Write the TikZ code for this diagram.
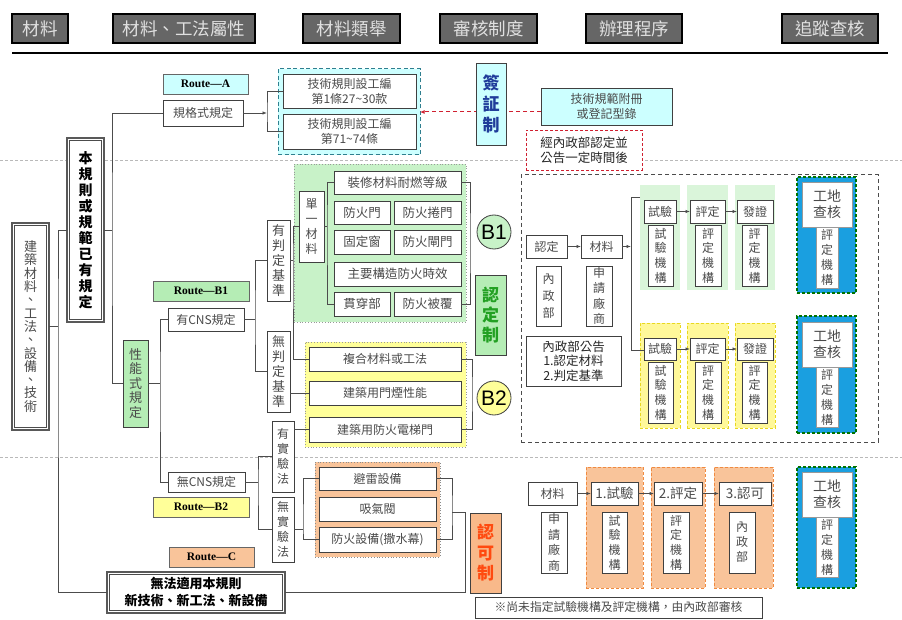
\documentclass[tikz,border=0pt]{standalone}
\usepackage{fontspec}
\newfontfamily\cjk{Noto Sans CJK TC}
\newfontfamily\rmser{Liberation Serif}
\newfontfamily\sfar{Liberation Sans}
\usetikzlibrary{arrows.meta}
\definecolor{hdr}{HTML}{666666}
\definecolor{cyanf}{HTML}{CCFFFF}
\definecolor{greenf}{HTML}{C8F2C8}
\definecolor{greenr}{HTML}{B5EDB5}
\definecolor{yellowf}{HTML}{FFFF99}
\definecolor{orangef}{HTML}{F9C49A}
\definecolor{orangeb}{HTML}{F8B98A}
\definecolor{bluef}{HTML}{1A9FE0}
\definecolor{txt}{HTML}{4A4A4A}
\definecolor{teal2}{HTML}{2F7F8F}
\definecolor{greentxt}{HTML}{22A022}
\definecolor{orangetxt}{HTML}{FF4A10}
\definecolor{bluetxt}{HTML}{1F3C9A}
\definecolor{redd}{HTML}{D02030}
\definecolor{lgreen}{HTML}{DAF5DA}
\definecolor{lyellow}{HTML}{FFF89A}
\definecolor{ydash}{HTML}{E8D820}
\definecolor{odash}{HTML}{F08A40}
\newcommand{\mybox}[7][]{\node[#1, minimum width={(#4-#2)*1pt}, minimum height={(#5-#3)*1pt}] (#6) at ({(#2+#4)/2},{(#3+#5)/2}) {#7};}
\newcommand{\innerframe}[1]{\draw[black!70, line width=0.6pt] ([xshift=2.6pt,yshift=-2.6pt]#1.north west) rectangle ([xshift=-2.6pt,yshift=2.6pt]#1.south east);}
\begin{document}
\begin{tikzpicture}[x=1pt,y=-1pt,
  hdrbox/.style={draw=black, line width=1.5pt, fill=hdr, text=white!88!black, font=\cjk\fontsize{17.5}{20}\selectfont, inner sep=0, outer sep=0},
  wbox/.style={draw=black!75, line width=0.8pt, fill=white, text=txt, font=\cjk\fontsize{12}{15}\selectfont, inner sep=0, outer sep=0, align=center},
  dblbox/.style={wbox, draw=black!65, line width=1.3pt},
  routebox/.style={draw=black!60, line width=0.8pt, text=black, font=\rmser\bfseries\fontsize{11.5}{13}\selectfont, inner sep=0, outer sep=0},
  grp/.style={inner sep=0, outer sep=0},
  conn/.style={draw=black!70, line width=0.8pt},
  arr/.style={conn, -{Latex[length=4.5pt,width=3.5pt]}},
  v12/.style={font=\cjk\fontsize{12}{15}\selectfont},
  v13/.style={font=\cjk\fontsize{13}{15}\selectfont},
  gcol/.style={grp, fill=lgreen},
  ycol/.style={grp, fill=lyellow, draw=ydash, line width=0.9pt, dash pattern=on 3pt off 2pt},
  ocol/.style={grp, fill=orangef, draw=odash, line width=0.9pt, dash pattern=on 3pt off 2pt},
  bluebox/.style={grp, fill=bluef, draw=green!45!black, line width=1.3pt, dash pattern=on 3pt off 2pt},
  inw/.style={wbox, draw=black!40, line width=0.5pt}
]
\useasboundingbox (0,0) rectangle (902,620);
\fill[white] (0,0) rectangle (902,620);

% headers
\mybox[hdrbox]{12}{14}{68}{43}{h1}{材料}
\mybox[hdrbox]{113}{14}{255}{43}{h2}{材料、工法屬性}
\mybox[hdrbox]{303}{14}{400}{43}{h3}{材料類舉}
\mybox[hdrbox]{440}{14}{537}{43}{h4}{審核制度}
\mybox[hdrbox]{586}{14}{682}{43}{h5}{辦理程序}
\mybox[hdrbox]{782}{14}{878}{43}{h6}{追蹤查核}
\draw[line width=2.2pt] (12,53) -- (888,53);

% separators
\draw[gray!55, line width=0.8pt, dash pattern=on 3pt off 2pt] (0,160) -- (902,160);
\draw[gray!55, line width=0.8pt, dash pattern=on 3pt off 2pt] (0,457) -- (902,457);

% ---- Route A
\mybox[grp, fill=cyanf, draw=teal2, line width=1pt, dash pattern=on 4pt off 2.5pt]{278}{69}{420}{155}{gA}{}
\mybox[routebox, fill=cyanf]{163}{74}{248}{94}{rA}{Route—A}
\mybox[wbox]{163}{100}{243}{126}{spec}{規格式規定}
\mybox[wbox]{283}{74}{416}{108}{ta1}{技術規則設工編\\第1條27\textasciitilde30款}
\mybox[wbox]{283}{114}{416}{149}{ta2}{技術規則設工編\\第71\textasciitilde74條}
\mybox[wbox, fill=cyanf]{541}{88}{672}{125}{app}{技術規範附冊\\或登記型錄}
\draw[redd, line width=1pt, dash pattern=on 4pt off 3pt, -{Latex[length=4.5pt,width=4pt]}] ([yshift=-5.5pt]app.west) -- ([yshift=-5.5pt]app.west -| gA.east);
\mybox[wbox, fill=cyanf, text=bluetxt, font=\cjk\bfseries\fontsize{17}{21}\selectfont]{476}{63}{506}{145}{sig}{簽\\証\\制}
\mybox[wbox, draw=redd, line width=0.9pt, dash pattern=on 3pt off 2pt, text=black!85, font=\cjk\fontsize{12.5}{15}\selectfont]{526}{130}{642}{170}{anc}{經內政部認定並\\公告一定時間後}

% ---- left tree
\mybox[dblbox, font=\cjk\fontsize{13}{13.3}\selectfont]{12}{223}{49}{430}{root}{建\\築\\材\\料\\、\\工\\法\\、\\設\\備\\、\\技\\術}
\innerframe{root}
\mybox[dblbox, text=black, font=\cjk\bfseries\fontsize{14}{16}\selectfont]{67}{138}{104}{322}{ben}{本\\規\\則\\或\\規\\範\\已\\有\\規\\定}
\innerframe{ben}
\mybox[wbox, fill=greenr, font=\cjk\fontsize{13}{14.5}\selectfont]{123}{340}{148}{427}{perf}{性\\能\\式\\規\\定}
\mybox[routebox, fill=greenr]{153}{281}{249}{301}{rB1}{Route—B1}
\mybox[wbox]{168}{308}{244}{331}{cns}{有CNS規定}
\mybox[wbox, v13]{267}{220}{290}{301}{hasj}{有\\判\\定\\基\\準}
\mybox[wbox, v13]{267}{331}{290}{412}{noj}{無\\判\\定\\基\\準}

% ---- B1 group
\mybox[grp, fill=greenf, draw=black!40, line width=0.8pt, dotted]{294}{164}{466}{322}{gB1}{}
\mybox[wbox, v12]{299}{191}{324}{262}{single}{單\\一\\材\\料}
\mybox[wbox, font=\cjk\fontsize{12.5}{15}\selectfont]{334}{171}{461}{194}{deco}{裝修材料耐燃等級}
\mybox[wbox, font=\cjk\fontsize{12.5}{15}\selectfont]{334}{201}{390}{224}{fdoor}{防火門}
\mybox[wbox, font=\cjk\fontsize{12.5}{15}\selectfont]{394}{201}{461}{224}{froll}{防火捲門}
\mybox[wbox, font=\cjk\fontsize{12.5}{15}\selectfont]{334}{230}{390}{254}{fwin}{固定窗}
\mybox[wbox, font=\cjk\fontsize{12.5}{15}\selectfont]{394}{230}{461}{254}{fdamp}{防火閘門}
\mybox[wbox, font=\cjk\fontsize{12.5}{15}\selectfont]{334}{262}{461}{286}{mains}{主要構造防火時效}
\mybox[wbox, font=\cjk\fontsize{12.5}{15}\selectfont]{334}{292}{390}{316}{pen}{貫穿部}
\mybox[wbox, font=\cjk\fontsize{12.5}{15}\selectfont]{394}{292}{461}{316}{cov}{防火被覆}
\node[circle, draw=black!75, line width=0.8pt, fill=greenf, minimum size=34pt, inner sep=0, font=\sfar\fontsize{21}{21}\selectfont] (cB1) at (494,232) {B1};
\mybox[wbox, fill=greenr, text=greentxt, font=\cjk\bfseries\fontsize{17}{20}\selectfont]{475}{275}{506}{355}{cert}{認\\定\\制}

% ---- B2 group
\mybox[grp, fill=yellowf, draw=black!40, line width=0.8pt, dotted]{305}{342}{466}{447}{gB2}{}
\mybox[wbox]{309}{347}{461}{371}{comp}{複合材料或工法}
\mybox[wbox]{309}{381}{461}{405}{smoke}{建築用門煙性能}
\mybox[wbox]{309}{417}{461}{442}{elev}{建築用防火電梯門}
\node[circle, draw=black!75, line width=0.8pt, fill=yellowf, minimum size=34pt, inner sep=0, font=\sfar\fontsize{21}{21}\selectfont] (cB2) at (494,398) {B2};

% ---- no CNS / C
\mybox[wbox, v12]{272}{421}{294}{492}{hasexp}{有\\實\\驗\\法}
\mybox[wbox, v12]{272}{497}{294}{562}{noexp}{無\\實\\驗\\法}
\mybox[wbox]{168}{472}{245}{492}{nocns}{無CNS規定}
\mybox[routebox, fill=yellowf]{153}{497}{249}{517}{rB2}{Route—B2}
\mybox[routebox, fill=orangef]{169}{547}{254}{567}{rC}{Route—C}
\mybox[grp, fill=orangef, draw=black!45, line width=0.8pt, dotted]{315}{462}{440}{557}{gC}{}
\mybox[wbox]{319}{467}{436}{490}{light}{避雷設備}
\mybox[wbox]{319}{497}{436}{521}{valve}{吸氣閥}
\mybox[wbox]{319}{527}{436}{552}{fire}{防火設備(撒水幕)}
\mybox[dblbox, text=black, font=\cjk\bfseries\fontsize{13}{17}\selectfont]{107}{572}{285}{613}{nofit}{無法適用本規則\\新技術、新工法、新設備}
\innerframe{nofit}
\mybox[wbox, fill=orangeb, text=orangetxt, font=\cjk\bfseries\fontsize{17}{20.5}\selectfont]{470}{513}{501}{593}{permit}{認\\可\\制}
\mybox[wbox, font=\cjk\fontsize{11.8}{14}\selectfont]{475}{597}{762}{618}{foot}{※尚未指定試驗機構及評定機構，由內政部審核}

% ---- right process (B)
\mybox[grp, draw=black!70, line width=1pt, dash pattern=on 4pt off 3pt]{521}{175}{878}{442}{gR}{}
\mybox[wbox]{526}{235}{567}{258}{rd}{認定}
\mybox[wbox]{581}{235}{622}{258}{rmat}{材料}
\mybox[wbox, font=\cjk\fontsize{12}{17}\selectfont]{536}{266}{561}{326}{moi1}{內\\政\\部}
\mybox[wbox, font=\cjk\fontsize{12}{15.3}\selectfont]{586}{266}{612}{326}{appl1}{申\\請\\廠\\商}
\mybox[wbox, text=black!85, font=\cjk\fontsize{12.5}{14.7}\selectfont]{526}{336}{621}{386}{notice}{內政部公告\\1.認定材料\\2.判定基準}

\mybox[gcol]{640}{185}{680}{290}{gc1}{}
\mybox[gcol]{687}{185}{728}{290}{gc2}{}
\mybox[gcol]{735}{185}{775}{290}{gc3}{}
\mybox[wbox]{644}{200}{676}{223}{t1}{試驗}
\mybox[wbox]{690}{200}{725}{223}{e1}{評定}
\mybox[wbox]{737}{200}{773}{223}{c1}{發證}
\mybox[wbox, font=\cjk\fontsize{12}{14.7}\selectfont]{648}{225}{673}{286}{ts1}{試\\驗\\機\\構}
\mybox[wbox, font=\cjk\fontsize{12}{14.7}\selectfont]{695}{225}{721}{286}{es1}{評\\定\\機\\構}
\mybox[wbox, font=\cjk\fontsize{12}{14.7}\selectfont]{742}{225}{767}{286}{cs1}{評\\定\\機\\構}

\mybox[ycol]{640}{323}{680}{428}{yc1}{}
\mybox[ycol]{687}{323}{728}{428}{yc2}{}
\mybox[ycol]{735}{323}{775}{428}{yc3}{}
\mybox[wbox]{644}{338}{676}{360}{t2}{試驗}
\mybox[wbox]{690}{338}{725}{360}{e2}{評定}
\mybox[wbox]{737}{338}{773}{360}{c2}{發證}
\mybox[wbox, font=\cjk\fontsize{12}{14.7}\selectfont]{648}{362}{673}{423}{ts2}{試\\驗\\機\\構}
\mybox[wbox, font=\cjk\fontsize{12}{14.7}\selectfont]{695}{362}{721}{423}{es2}{評\\定\\機\\構}
\mybox[wbox, font=\cjk\fontsize{12}{14.7}\selectfont]{742}{362}{767}{423}{cs2}{評\\定\\機\\構}

% blue boxes
\mybox[bluebox]{797}{177}{856}{293}{bl1}{}
\mybox[inw, font=\cjk\fontsize{14}{16}\selectfont]{802}{182}{852}{227}{site1}{工地\\查核}
\mybox[inw, font=\cjk\fontsize{12}{15}\selectfont]{816}{227}{838}{288}{ev1}{評\\定\\機\\構}
\mybox[bluebox]{797}{316}{856}{433}{bl2}{}
\mybox[inw, font=\cjk\fontsize{14}{16}\selectfont]{802}{322}{852}{367}{site2}{工地\\查核}
\mybox[inw, font=\cjk\fontsize{12}{15}\selectfont]{816}{367}{838}{427}{ev2}{評\\定\\機\\構}
\mybox[bluebox]{797}{467}{856}{588}{bl3}{}
\mybox[inw, font=\cjk\fontsize{14}{16}\selectfont]{802}{472}{852}{517}{site3}{工地\\查核}
\mybox[inw, font=\cjk\fontsize{12}{15}\selectfont]{816}{517}{838}{577}{ev3}{評\\定\\機\\構}

% ---- C process
\mybox[wbox]{528}{482}{577}{505}{cmat}{材料}
\mybox[wbox, font=\cjk\fontsize{12}{15.5}\selectfont]{541}{512}{567}{573}{appl2}{申\\請\\廠\\商}
\mybox[ocol]{586}{467}{643}{588}{oc1}{}
\mybox[ocol]{651}{467}{705}{588}{oc2}{}
\mybox[ocol]{714}{467}{773}{588}{oc3}{}
\mybox[wbox, font=\cjk\fontsize{13.5}{15}\selectfont]{591}{482}{638}{505}{ct1}{1.試驗}
\mybox[wbox, font=\cjk\fontsize{13.5}{15}\selectfont]{654}{482}{702}{505}{ct2}{2.評定}
\mybox[wbox, font=\cjk\fontsize{13.5}{15}\selectfont]{719}{482}{771}{505}{ct3}{3.認可}
\mybox[wbox, font=\cjk\fontsize{12}{14.7}\selectfont]{602}{512}{627}{573}{cst}{試\\驗\\機\\構}
\mybox[wbox, font=\cjk\fontsize{12}{14.7}\selectfont]{663}{512}{689}{573}{cse}{評\\定\\機\\構}
\mybox[wbox, font=\cjk\fontsize{12}{15}\selectfont]{729}{512}{755}{573}{csm}{內\\政\\部}

% ---- junction coordinates
\coordinate (j1) at (58,326);
\coordinate (j2) at (112,230);
\coordinate (j3) at (267,113);
\coordinate (j4) at (160,383);
\coordinate (j5) at (255,319);
\coordinate (j6) at (293,260);
\coordinate (j7) at (327,227);
\coordinate (j8) at (470,243);
\coordinate (j9) at (472,394);
\coordinate (j10) at (258,482);
\coordinate (j11) at (303,529);
\coordinate (j12) at (452,512);
\coordinate (j13) at (465,512);
\coordinate (jr) at (631,246.5);
\coordinate (rtop) at (631,197);
\coordinate (rbot) at (631,350);

% ---- connectors
\draw[conn] (root.east) -- (root.east -| j1);
\draw[conn] (ben.west) -| (j1) |- (nofit.west);
\draw[conn] (ben.east) -- (ben.east -| j2);
\draw[conn] (spec.west) -| (j2) |- (perf.west);
\draw[arr] (spec.east) -- (spec.east -| j3);
\draw[conn] (ta1.west) -| (j3) |- (ta2.west);
\draw[conn] (perf.east) -- (perf.east -| j4);
\draw[conn] (cns.west) -| (j4) |- (nocns.west);
\draw[conn] (cns.east) -- (cns.east -| j5);
\draw[conn] (hasj.west) -| (j5) |- (noj.west);
\draw[conn] (hasj.east) -- (hasj.east -| j6);
\draw[conn] (single.west) -| (j6) |- (comp.west);
\draw[conn] (single.east) -- (single.east -| j7);
\draw[conn] (deco.west) -| (j7) |- (pen.west);
\draw[conn] (deco.east) -| (j8) |- (cov.east);
\draw[conn] (smoke.west) -- (smoke.west -| noj.east);
\draw[conn] (comp.east) -| (j9) |- (elev.east);
\draw[conn] (nocns.east) -- (nocns.east -| j10);
\draw[conn] (hasexp.west) -| (j10) |- (noexp.west);
\draw[conn] (elev.west) -- (elev.west -| hasexp.east);
\draw[conn] (noexp.east) -- (noexp.east -| j11);
\draw[conn] (light.west) -| (j11) |- (fire.west);
\draw[conn] (light.east) -| (j12) |- (fire.east);
\draw[conn] (nofit.east) -| (j13) -- (j12);

\draw[arr] (rd) -- (rmat);
\draw[arr] (rmat.east) -- (jr);
\draw[conn] (rtop -| gc1.west) -- (rtop) -- (rbot) -- (rbot -| t2.west);
\draw[arr] (t1) -- (e1);
\draw[arr] (e1) -- (c1);
\draw[arr] (t2) -- (e2);
\draw[arr] (e2) -- (c2);
\draw[arr] (cmat) -- (ct1);
\draw[arr] (ct1) -- (ct2);
\draw[arr] (ct2) -- (ct3);
\end{tikzpicture}
\end{document}
